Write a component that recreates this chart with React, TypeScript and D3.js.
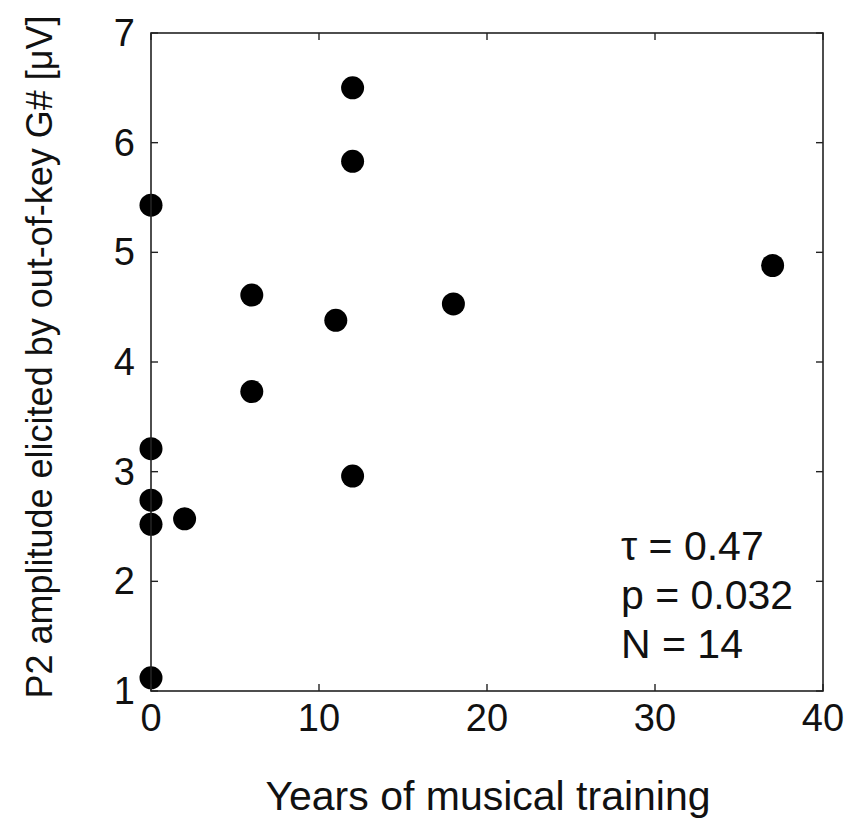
import React, { useEffect, useRef } from 'react';
import * as d3 from 'd3';

// years of musical training vs P2 amplitude
const years = [0, 0, 0, 0, 0, 2, 6, 6, 11, 12, 12, 12, 18, 37];
const amplitude = [5.43, 3.21, 2.74, 2.52, 1.12, 2.57, 4.61, 3.73, 4.38, 6.5, 5.83, 2.96, 4.53, 4.88];

const xTicks = [0, 10, 20, 30, 40];
const yTicks = [1, 2, 3, 4, 5, 6, 7];
const statLines = ['\u03c4 = 0.47', 'p = 0.032', 'N = 14'];

const FONT = '"Liberation Sans", Arial, sans-serif';

export default function App() {
  const svgRef = useRef<SVGSVGElement>(null);

  useEffect(() => {
    if (!svgRef.current) return;
    const svg = d3.select(svgRef.current);
    svg.selectAll('*').remove();

    const margin = { top: 33, right: 27, bottom: 134, left: 151 };
    const width = 850, height = 825;
    const innerW = width - margin.left - margin.right;
    const innerH = height - margin.top - margin.bottom;

    const x = d3.scaleLinear().domain([0, 40]).range([0, innerW]);
    const y = d3.scaleLinear().domain([1, 7]).range([innerH, 0]);

    const g = svg.append('g').attr('transform', `translate(${margin.left},${margin.top})`);

    const tickLen = 7;

    // points first so the box draws over them
    g.append('g')
      .selectAll('circle')
      .data(years.map((v, i) => ({ v, a: amplitude[i] })))
      .enter()
      .append('circle')
      .attr('cx', (d) => x(d.v))
      .attr('cy', (d) => y(d.a))
      .attr('r', 11.5)
      .attr('fill', '#000');

    // box
    g.append('rect')
      .attr('x', 0)
      .attr('y', 0)
      .attr('width', innerW)
      .attr('height', innerH)
      .attr('fill', 'none')
      .attr('stroke', '#222')
      .attr('stroke-width', 1.6);

    // x ticks (bottom + mirrored top)
    const xt = g.append('g').attr('stroke', '#222').attr('stroke-width', 1.4);
    xTicks.forEach((t) => {
      xt.append('line').attr('x1', x(t)).attr('x2', x(t)).attr('y1', innerH).attr('y2', innerH - tickLen);
      xt.append('line').attr('x1', x(t)).attr('x2', x(t)).attr('y1', 0).attr('y2', tickLen);
    });
    g.append('g')
      .selectAll('text')
      .data(xTicks)
      .enter()
      .append('text')
      .attr('x', (d) => x(d))
      .attr('y', innerH + 40)
      .attr('text-anchor', 'middle')
      .style('font-family', FONT)
      .style('font-size', '38px')
      .attr('fill', '#111')
      .text((d) => d);

    // y ticks (left + mirrored right)
    const yt = g.append('g').attr('stroke', '#222').attr('stroke-width', 1.4);
    yTicks.forEach((t) => {
      yt.append('line').attr('x1', 0).attr('x2', tickLen).attr('y1', y(t)).attr('y2', y(t));
      yt.append('line').attr('x1', innerW).attr('x2', innerW - tickLen).attr('y1', y(t)).attr('y2', y(t));
    });
    g.append('g')
      .selectAll('text')
      .data(yTicks)
      .enter()
      .append('text')
      .attr('x', -16)
      .attr('y', (d) => y(d) + 13)
      .attr('text-anchor', 'end')
      .style('font-family', FONT)
      .style('font-size', '38px')
      .attr('fill', '#111')
      .text((d) => d);

    // axis labels
    svg.append('text')
      .attr('x', 488)
      .attr('y', 810)
      .attr('text-anchor', 'middle')
      .style('font-family', FONT)
      .style('font-size', '41px')
      .attr('fill', '#111')
      .text('Years of musical training');

    svg.append('text')
      .attr('transform', `translate(52,${margin.top + innerH / 2 - 5}) rotate(-90)`)
      .attr('text-anchor', 'middle')
      .style('font-family', FONT)
      .style('font-size', '36px')
      .attr('fill', '#111')
      .text('P2 amplitude elicited by out-of-key G# [\u03bcV]');

    // stats annotation
    svg.append('g')
      .selectAll('text')
      .data(statLines)
      .enter()
      .append('text')
      .attr('x', 621)
      .attr('y', (d, i) => 560 + i * 49)
      .style('font-family', FONT)
      .style('font-size', '41px')
      .attr('fill', '#111')
      .text((d) => d);
  }, []);

  return (
    <svg
      ref={svgRef}
      width={850}
      height={825}
      style={{ position: 'absolute', left: 0, top: 0, background: '#fff' }}
    />
  );
}
